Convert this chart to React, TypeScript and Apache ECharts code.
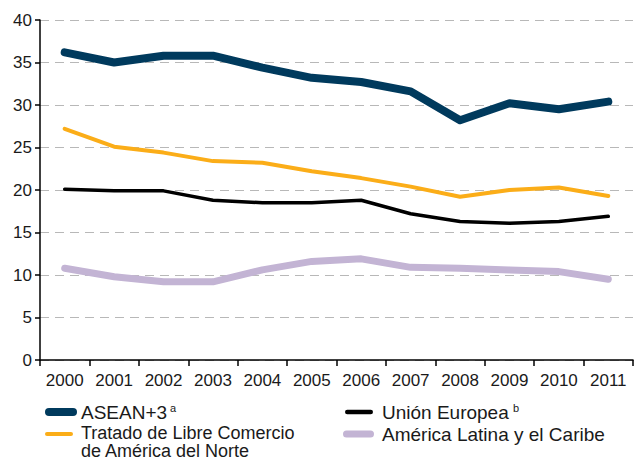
import React, { useEffect, useRef } from "react";
import * as echarts from "echarts";

const years = ["2000", "2001", "2002", "2003", "2004", "2005", "2006", "2007", "2008", "2009", "2010", "2011"];
const asean = [36.2, 35.0, 35.8, 35.8, 34.4, 33.2, 32.7, 31.6, 28.2, 30.2, 29.5, 30.4];
const nafta = [27.2, 25.1, 24.4, 23.4, 23.2, 22.2, 21.4, 20.4, 19.2, 20.0, 20.3, 19.3];
const eu = [20.1, 19.9, 19.9, 18.8, 18.5, 18.5, 18.8, 17.2, 16.3, 16.1, 16.3, 16.9];
const lac = [10.8, 9.8, 9.2, 9.2, 10.6, 11.6, 11.9, 10.9, 10.8, 10.6, 10.4, 9.5];

const FONT = "'Liberation Sans', Arial, sans-serif";

export default function App() {
  const ref = useRef<HTMLDivElement>(null);
  useEffect(() => {
    const chart = echarts.init(ref.current!, null, { renderer: "svg" });
    const mk = (name: string, data: number[], color: string, width: number) => ({
      name,
      type: "line",
      data,
      symbol: "none",
      lineStyle: { color, width, cap: "round", join: "round" },
      z: 3,
    });
    const legendText = (x: number, y: number, text: string, size = 19) => ({
      type: "text",
      x,
      y,
      style: { text, fontSize: size, fontFamily: FONT, fill: "#1a1a1a", textVerticalAlign: "middle" },
    });
    const legendIcon = (x: number, y: number, w: number, h: number, color: string) => ({
      type: "rect",
      shape: { x, y: y - h / 2, width: w, height: h, r: h / 2 },
      style: { fill: color },
    });
    chart.setOption({
      animation: false,
      grid: { left: 40, right: 2, top: 20, bottom: 101, containLabel: false },
      xAxis: {
        type: "category",
        data: years,
        boundaryGap: true,
        axisLine: { lineStyle: { color: "#000", width: 1.5 } },
        axisTick: { show: true, alignWithLabel: false, length: 6, lineStyle: { color: "#000", width: 1.5 } },
        axisLabel: { color: "#1a1a1a", fontSize: 17, fontFamily: FONT, margin: 12 },
      },
      yAxis: {
        type: "value",
        min: 0,
        max: 40,
        interval: 5,
        axisLine: { show: true, lineStyle: { color: "#000", width: 1.5 } },
        axisTick: { show: true, length: 5, lineStyle: { color: "#000", width: 1.5 } },
        axisLabel: { color: "#1a1a1a", fontSize: 17, fontFamily: FONT, margin: 8 },
        splitLine: { show: true, lineStyle: { color: "#b8b8b8", type: [9, 6], width: 1.2 } },
      },
      series: [
        mk("ASEAN+3", asean, "#003a5d", 8),
        mk("Tratado de Libre Comercio de América del Norte", nafta, "#fbad18", 4),
        mk("Unión Europea", eu, "#000000", 3.5),
        mk("América Latina y el Caribe", lac, "#c3b4d4", 7),
      ],
      graphic: [
        legendIcon(45, 412, 32, 8, "#003a5d"),
        legendText(81, 412, "ASEAN+3"),
        legendText(170, 408, "a", 11),
        legendIcon(45, 434, 28, 4, "#fbad18"),
        {
          type: "text",
          x: 81,
          y: 424,
          style: {
            text: "Tratado de Libre Comercio\nde América del Norte",
            fontSize: 18,
            lineHeight: 18,
            fontFamily: FONT,
            fill: "#1a1a1a",
            textVerticalAlign: "top",
          },
        },
        legendIcon(345, 412, 28, 4.5, "#000000"),
        legendText(382, 412, "Unión Europea"),
        legendText(513, 408, "b", 11),
        legendIcon(343, 434, 31, 7, "#c3b4d4"),
        legendText(382, 434, "América Latina y el Caribe"),
      ],
    });
    return () => chart.dispose();
  }, []);
  return <div ref={ref} style={{ width: 635, height: 461, position: "absolute", left: 0, top: 0 }} />;
}
